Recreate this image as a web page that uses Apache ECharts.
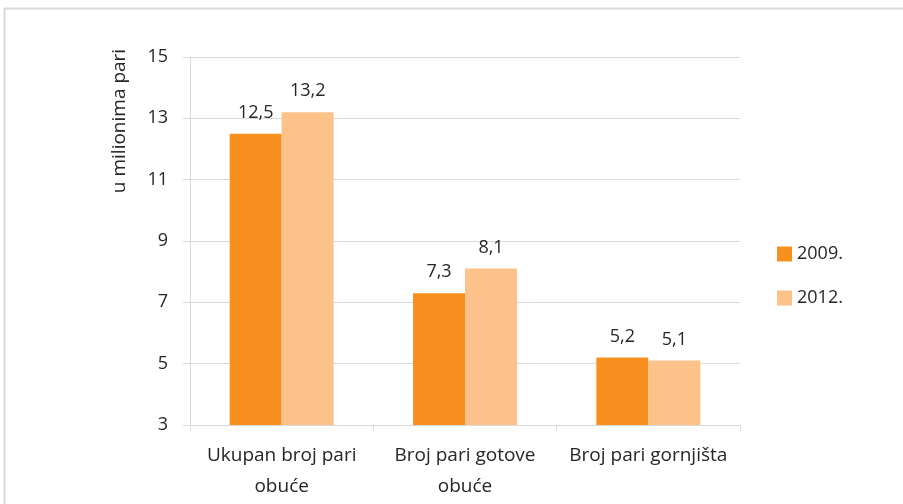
<!DOCTYPE html>
<html>
<head>
<meta charset="utf-8">
<script src="https://cdn.jsdelivr.net/npm/echarts@6/dist/echarts.min.js"></script>
<style>
  html, body { margin: 0; padding: 0; background: #fff; }
  #chart { width: 903px; height: 504px; }
</style>
</head>
<body>
<div id="chart"></div>
<script>
var categories = ['Ukupan broj pari\nobuće', 'Broj pari gotove\nobuće', 'Broj pari gornjišta'];
var values2009 = [12.5, 7.3, 5.2];
var values2012 = [13.2, 8.1, 5.1];
var seriesNames = ['2009.', '2012.'];

var font = 'Open Sans';
var txt = '#262626';

function comma(p) { return String(p.value).replace('.', ','); }

var chart = echarts.init(document.getElementById('chart'));
chart.setOption({
  animation: false,
  textStyle: { fontFamily: font },
  graphic: [
    { type: 'rect', shape: { x: 4.5, y: 8.5, width: 1000, height: 1000 },
      style: { fill: 'none', stroke: '#d9d9d9', lineWidth: 2 } },
    { type: 'text', x: 120, y: 121, rotation: Math.PI / 2,
      style: { text: 'u milionima pari', fill: txt, fontSize: 19, fontFamily: font,
               align: 'center', verticalAlign: 'middle' } }
  ],
  grid: { left: 190, right: 163, top: 57, bottom: 79 },
  legend: {
    orient: 'vertical', left: 772, top: 240, itemGap: 26,
    itemWidth: 15, itemHeight: 15, icon: 'rect',
    textStyle: { fontSize: 18, color: txt, fontFamily: font },
    data: seriesNames
  },
  xAxis: {
    type: 'category', data: categories,
    axisLine: { lineStyle: { color: '#d9d9d9' } },
    axisTick: { show: true, length: 6, lineStyle: { color: '#d9d9d9' } },
    axisLabel: { color: txt, fontSize: 19, lineHeight: 31, margin: 15, interval: 0 }
  },
  yAxis: {
    type: 'value', min: 3, max: 15, interval: 2,
    axisLine: { show: true, lineStyle: { color: '#d9d9d9' } },
    axisTick: { show: true, length: 7, lineStyle: { color: '#d9d9d9' } },
    splitLine: { lineStyle: { color: '#d9d9d9' } },
    axisLabel: { color: txt, fontSize: 18, margin: 22 }
  },
  series: [
    { name: seriesNames[0], type: 'bar', data: values2009, barWidth: 52, barGap: '0%',
      itemStyle: { color: '#F7901E' },
      label: { show: true, position: 'top', distance: 12, color: txt, fontSize: 18, formatter: comma } },
    { name: seriesNames[1], type: 'bar', data: values2012, barWidth: 52, barGap: '0%',
      itemStyle: { color: '#FDC28A' },
      label: { show: true, position: 'top', distance: 12, color: txt, fontSize: 18, formatter: comma } }
  ]
});
</script>
</body>
</html>
